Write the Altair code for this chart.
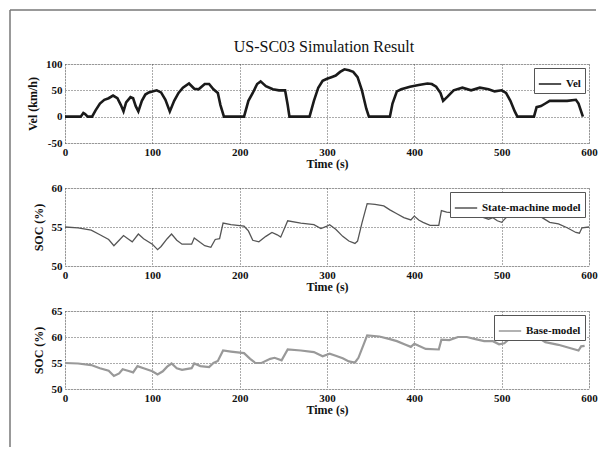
import altair as alt
import pandas as pd

# ---------------- data ----------------
t_vel = [0, 18, 21, 23, 26, 31, 35, 40, 45, 50, 55, 60, 64, 67, 70, 75, 78, 81, 84, 88, 92, 96, 100, 105,
         110, 115, 120, 125, 130, 135, 142, 148, 153, 160, 165, 170, 175, 178, 182, 205, 210, 215, 220, 224,
         230, 238, 245, 252, 255, 257, 280, 285, 290, 295, 300, 305, 310, 315, 320, 325, 330, 335, 340, 345,
         348, 372, 375, 380, 385, 395, 405, 415, 420, 425, 430, 433, 438, 445, 455, 465, 475, 485, 492, 500,
         505, 510, 515, 518, 537, 540, 545, 550, 555, 565, 575, 585, 588, 593]
vel = [0, 0, 7, 5, 0, 0, 12, 25, 32, 35, 40, 35, 22, 10, 27, 37, 35, 20, 10, 30, 42, 46, 48, 50,
       46, 32, 10, 30, 45, 55, 63, 53, 52, 62, 62, 52, 45, 22, 0, 0, 30, 45, 62, 67,
       58, 52, 50, 50, 22, 0, 0, 30, 55, 68, 72, 75, 78, 85, 90, 88, 85, 75, 50, 15,
       0, 0, 25, 48, 52, 57, 60, 63, 62, 57, 45, 30, 38, 50, 55, 50, 55, 52, 48, 50,
       45, 30, 10, 0, 0, 18, 20, 25, 30, 30, 30, 32, 25, 0]

t_sm = [0, 15, 30, 40, 50, 56, 62, 67, 72, 77, 84, 90, 100, 106, 110, 117, 122, 128, 134, 145, 148, 155,
        160, 167, 172, 177, 181, 190, 205, 210, 215, 222, 230, 237, 243, 247, 255, 270, 285, 293, 300, 303,
        310, 318, 325, 332, 335, 340, 346, 355, 365, 372, 380, 388, 396, 400, 405, 410, 418, 428, 431, 437,
        445, 450, 460, 468, 477, 485, 490, 495, 500, 505, 510, 514, 520, 535, 545, 555, 565, 575, 585, 589,
        592, 600]
soc_sm = [55.0, 54.9, 54.6, 54.0, 53.4, 52.6, 53.3, 53.9, 53.5, 53.1, 54.1, 53.5, 52.8, 52.1, 52.5, 53.5, 54.1, 53.3, 52.8, 52.8, 53.6, 53.0,
          52.6, 52.4, 53.4, 53.5, 55.5, 55.3, 55.1, 54.5, 53.3, 53.1, 53.8, 54.3, 54.0, 53.7, 55.8, 55.5, 55.3, 54.8, 55.1, 55.3,
          54.7, 53.8, 53.2, 52.9, 53.2, 55.5, 58.0, 57.9, 57.7, 57.2, 56.7, 56.2, 55.9, 56.4, 55.9, 55.6, 55.2, 55.2, 57.1, 56.9,
          56.8, 57.0, 57.0, 56.7, 56.3, 56.0, 56.2, 55.8, 55.6, 56.2, 56.3, 57.4, 57.3, 57.0, 56.3, 55.6, 55.4, 54.9, 54.3, 54.2,
          54.9, 55.0]

t_base = [0, 15, 30, 40, 50, 56, 62, 66, 72, 78, 83, 90, 100, 106, 112, 117, 122, 128, 134, 145, 148, 155,
          165, 170, 175, 181, 190, 205, 212, 218, 225, 235, 240, 248, 255, 270, 285, 295, 303, 310, 318, 325,
          332, 336, 346, 360, 372, 380, 390, 396, 400, 405, 413, 428, 431, 440, 450, 460, 470, 480, 490, 497,
          503, 510, 514, 530, 540, 550, 565, 580, 588, 591, 595]
soc_base = [55.0, 54.9, 54.6, 54.0, 53.5, 52.5, 53.0, 53.8, 53.5, 53.2, 54.4, 54.0, 53.4, 52.8, 53.4, 54.3, 54.9, 54.0, 53.7, 54.0, 54.9, 54.4,
            54.2, 55.0, 55.4, 57.4, 57.2, 56.9, 55.8, 55.0, 55.0, 55.8, 56.0, 55.5, 57.6, 57.4, 57.1, 56.3, 56.8, 56.4, 55.9, 55.3,
            55.1, 56.0, 60.3, 60.1, 59.6, 59.2, 58.5, 58.1, 58.7, 58.3, 57.7, 57.6, 59.5, 59.4, 60.0, 60.0, 59.6, 59.2, 59.2, 58.6,
            58.8, 59.8, 60.7, 60.4, 60.1, 59.0, 58.5, 57.8, 57.4, 58.2, 58.3]

title_text = "US-SC03 Simulation Result"
x_ticks = [0, 100, 200, 300, 400, 500, 600]

# ---------------- styling ----------------
FONT = "Liberation Serif"
W = 524
H1, H2, H3 = 79, 78, 78

AX = dict(labelFont=FONT, labelFontWeight="bold", labelFontSize=11, labelColor="#111",
          titleFont=FONT, titleFontWeight="bold", titleFontSize=12, titleColor="#111",
          ticks=False, domain=False, grid=True, gridColor="#444", gridDash=[1, 2],
          gridWidth=0.9, labelExpr="'' + datum.value", labelFlush=False)


def x_enc():
    return alt.X("t:Q", scale=alt.Scale(domain=[0, 600], nice=False),
                 axis=alt.Axis(values=x_ticks, title="Time (s)", labelPadding=3,
                               titlePadding=1, **AX))


def legend():
    return alt.Legend(orient="top-right", title=None, symbolType="stroke",
                      symbolSize=500, fillColor="white", strokeColor="#555",
                      padding=4, offset=4, labelFont=FONT, labelFontWeight="bold",
                      labelFontSize=11, labelColor="#111", symbolOffset=0)


def panel(df, ytitle, ydom, yvals, name, color, sw, h):
    return alt.Chart(df).mark_line(strokeWidth=sw).encode(
        x=x_enc(),
        y=alt.Y("v:Q", scale=alt.Scale(domain=ydom, nice=False),
                axis=alt.Axis(values=yvals, title=ytitle, labelPadding=3,
                              titlePadding=6, **AX)),
        color=alt.Color("s:N", scale=alt.Scale(domain=[name], range=[color]),
                        legend=legend()),
    ).properties(width=W, height=h)


df_vel = pd.DataFrame({"t": t_vel, "v": vel, "s": "Vel"})
df_sm = pd.DataFrame({"t": t_sm, "v": soc_sm, "s": "State-machine model"})
df_base = pd.DataFrame({"t": t_base, "v": soc_base, "s": "Base-model"})

p1 = panel(df_vel, "Vel (km/h)", [-50, 100], [-50, 0, 50, 100], "Vel", "#1a1a1a", 2.6, H1)

one = alt.Data(values=[{"a": 1}])
frame_v = alt.Chart(one).mark_rule(color="#777", strokeWidth=1.5).encode(
    x=alt.value(-55), y=alt.value(-54), y2=alt.value(383))
frame_h = alt.Chart(one).mark_rule(color="#777", strokeWidth=1.5).encode(
    x=alt.value(-55), x2=alt.value(531), y=alt.value(-54))
title = alt.Chart(one).mark_text(font=FONT, fontSize=16, color="#111").encode(
    x=alt.value(W / 2 - 3), y=alt.value(-17), text=alt.value(title_text))

top = alt.layer(frame_v, frame_h, title, p1)

p2 = panel(df_sm, "SOC (%)", [50, 60], [50, 55, 60], "State-machine model", "#555555", 1.3, H2)
p3 = panel(df_base, "SOC (%)", [50, 65], [50, 55, 60, 65], "Base-model", "#999999", 2.2, H3)

chart = alt.vconcat(top, p2, p3, spacing=45, bounds="flush").resolve_scale(
    color="independent").resolve_legend(color="independent").properties(
    padding={"left": 0, "top": 0, "right": 0, "bottom": 0}
).configure_view(stroke="#555", strokeWidth=1).configure(background="white", font=FONT)

chart.save("out.html", embed_options={"renderer": "svg", "actions": False})
